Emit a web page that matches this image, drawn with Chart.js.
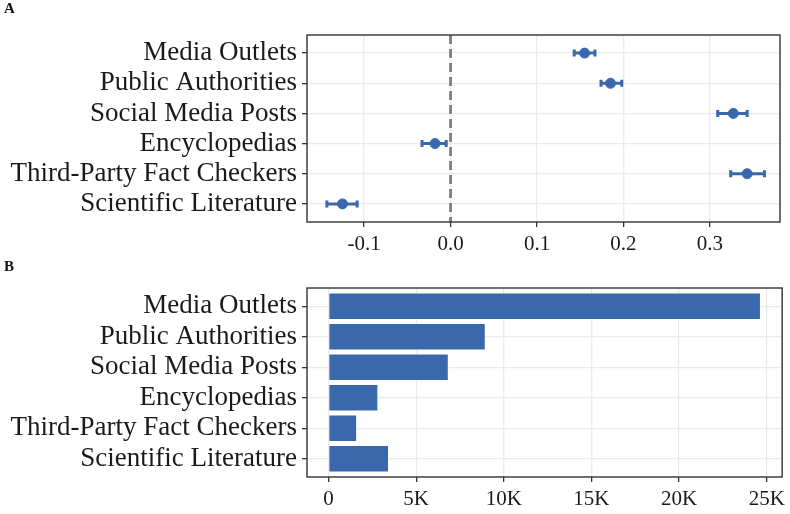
<!DOCTYPE html>
<html>
<head>
<meta charset="utf-8">
<script src="https://cdn.jsdelivr.net/npm/chart.js@4.4.0/dist/chart.umd.min.js"></script>
<style>
  body { margin: 0; background: #fff; width: 790px; height: 514px; overflow: hidden; position: relative; font-family: "Liberation Serif", serif; }
  .panel { position: absolute; left: 0; width: 790px; }
  #wrapA { top: 0; height: 258px; }
  #wrapB { top: 258px; height: 256px; }
  .tag { position: absolute; left: 4px; font-weight: bold; font-size: 15px; color: #111; }
</style>
</head>
<body>
<div class="panel" id="wrapA"><canvas id="chartA" width="790" height="258"></canvas></div>
<div class="panel" id="wrapB"><canvas id="chartB" width="790" height="256"></canvas></div>
<div class="tag" style="top:0px">A</div>
<div class="tag" style="top:258px">B</div>
<script>
const categories = ['Media Outlets', 'Public Authorities', 'Social Media Posts', 'Encyclopedias', 'Third-Party Fact Checkers', 'Scientific Literature'];

// panel A: estimate with interval
const estimates = [0.155, 0.185, 0.327, -0.018, 0.343, -0.125];
const lower = [0.143, 0.174, 0.309, -0.033, 0.324, -0.143];
const upper = [0.167, 0.198, 0.343, -0.005, 0.363, -0.108];
const ticksA = [-0.1, 0.0, 0.1, 0.2, 0.3];

// panel B: counts
const counts = [24670, 8970, 6860, 2840, 1630, 3450];
const ticksB = [0, 5000, 10000, 15000, 20000, 25000];

const blue = '#3a68ad';
const fontFamily = "'Liberation Serif', serif";
const textColor = '#1a1a1a';

// full black box around the plot area
const frame = {
    id: 'frame',
    afterDraw(chart) {
        const a = chart.chartArea, ctx = chart.ctx;
        ctx.save();
        ctx.strokeStyle = '#333';
        ctx.lineWidth = 1.4;
        ctx.strokeRect(a.left, a.top, a.right - a.left, a.bottom - a.top);
        ctx.restore();
    }
};

// dashed zero line and the intervals, under the points
const zeroAndIntervals = {
    id: 'zeroAndIntervals',
    beforeDatasetsDraw(chart) {
        const a = chart.chartArea, ctx = chart.ctx;
        const xs = chart.scales.x, ys = chart.scales.y;
        ctx.save();
        const x0 = xs.getPixelForValue(0);
        ctx.strokeStyle = '#7f7f7f';
        ctx.lineWidth = 2.8;
        ctx.setLineDash([9, 5]);
        ctx.beginPath();
        ctx.moveTo(x0, a.top);
        ctx.lineTo(x0, a.bottom);
        ctx.stroke();
        ctx.setLineDash([]);

        ctx.strokeStyle = blue;
        ctx.lineWidth = 3;
        for (let i = 0; i < categories.length; i++) {
            const y = ys.getPixelForValue(i);
            const l = xs.getPixelForValue(lower[i]);
            const r = xs.getPixelForValue(upper[i]);
            ctx.beginPath();
            ctx.moveTo(l, y);
            ctx.lineTo(r, y);
            ctx.moveTo(l, y - 3.5);
            ctx.lineTo(l, y + 3.5);
            ctx.moveTo(r, y - 3.5);
            ctx.lineTo(r, y + 3.5);
            ctx.stroke();
        }
        ctx.restore();
    }
};

function catAxis(labelSize) {
    return {
        type: 'linear',
        reverse: true,
        offset: false,
        min: -0.6,
        max: 5.6,
        afterBuildTicks: s => { s.ticks = categories.map((c, i) => ({ value: i })); },
        ticks: {
            callback: v => categories[v],
            font: { family: fontFamily, size: labelSize },
            color: textColor,
            padding: 5,
            autoSkip: false
        },
        grid: { offset: false, color: '#ebebeb', lineWidth: 1.3, tickColor: '#333', tickLength: 5 },
        border: { display: false },
        afterFit: s => { s.width = 307; }
    };
}

function valueAxis(min, max, tickValues, fmt, height) {
    return {
        type: 'linear',
        min: min,
        max: max,
        afterBuildTicks: s => { s.ticks = tickValues.map(v => ({ value: v })); },
        ticks: {
            callback: fmt,
            font: { family: fontFamily, size: 21 },
            color: textColor,
            padding: 5,
            maxRotation: 0,
            autoSkip: false
        },
        grid: { color: '#ebebeb', lineWidth: 1.3, tickColor: '#333', tickLength: 5 },
        border: { display: false },
        afterFit: s => { s.height = height; }
    };
}

const configA = {
    type: 'scatter',
    data: {
        datasets: [{
            data: estimates.map((x, i) => ({ x: x, y: i })),
            backgroundColor: blue,
            borderColor: blue,
            pointRadius: 5,
            pointHoverRadius: 5
        }]
    },
    options: {
        responsive: false,
        animation: false,
        layout: { padding: { left: 0, right: 10, top: 35, bottom: 0 } },
        plugins: { legend: { display: false }, tooltip: { enabled: false } },
        scales: {
            x: valueAxis(-0.166, 0.381, ticksA, v => v.toFixed(1), 36),
            y: catAxis(27)
        }
    },
    plugins: [zeroAndIntervals, frame]
};

const configB = {
    type: 'bar',
    data: {
        datasets: [{
            data: counts.map((x, i) => ({ x: x, y: i })),
            backgroundColor: blue,
            borderColor: 'rgba(255,255,255,0.6)',
            borderWidth: 1,
            barPercentage: 0.9,
            categoryPercentage: 1
        }]
    },
    options: {
        indexAxis: 'y',
        responsive: false,
        animation: false,
        layout: { padding: { left: 0, right: 6, top: 30, bottom: 0 } },
        plugins: { legend: { display: false }, tooltip: { enabled: false } },
        scales: {
            x: valueAxis(-1230, 25880, ticksB, v => v === 0 ? '0' : (v / 1000) + 'K', 37),
            y: catAxis(27)
        }
    },
    plugins: [frame]
};

new Chart(document.getElementById('chartA'), configA);
new Chart(document.getElementById('chartB'), configB);
</script>
</body>
</html>
